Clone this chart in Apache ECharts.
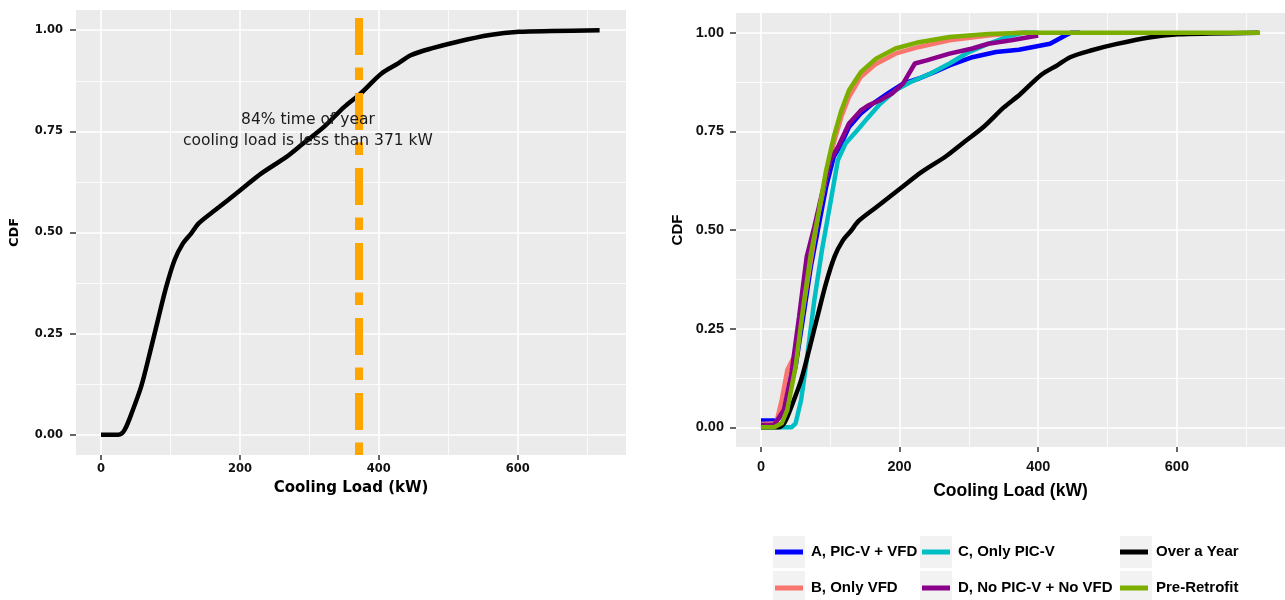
<!DOCTYPE html>
<html>
<head>
<meta charset="utf-8">
<script src="https://cdn.jsdelivr.net/npm/echarts@6/dist/echarts.min.js"></script>
<style>
  html, body { margin: 0; padding: 0; background: #fff; }
  #chart { width: 1285px; height: 600px; }
</style>
</head>
<body>
<div id="chart"></div>
<script>
// ticks / gridlines (ggplot style: majors labelled, minors only as lines)
const xTicks = [0, 200, 400, 600];
const xMinor = [100, 300, 500, 700];
const yTicks = [0, 0.25, 0.5, 0.75, 1];
const yMinor = [0.125, 0.375, 0.625, 0.875];

// cooling load over a year [kW, CDF]
const overYear = [
  [0, 0], [25, 0], [34, 0.012], [46, 0.062], [58, 0.12], [70, 0.2], [82, 0.284],
  [94, 0.366], [106, 0.432], [118, 0.473], [130, 0.498], [141, 0.523], [165, 0.556],
  [201, 0.605], [231, 0.646], [267, 0.687], [291, 0.72], [321, 0.761], [350, 0.81],
  [374, 0.844], [404, 0.893], [428, 0.918], [446, 0.938], [476, 0.955], [512, 0.971],
  [560, 0.988], [602, 0.996], [649, 0.998], [718, 1.0]
];
const markLoad = 371;
const noteText = '84% time of year\ncooling load is less than 371 kW';

// retrofit scenarios
const seriesA = [
  [0, 0.017], [22, 0.017], [33, 0.035], [50, 0.154], [61, 0.28], [72, 0.407], [83, 0.508],
  [94, 0.609], [105, 0.685], [116, 0.719], [127, 0.761], [144, 0.795], [161, 0.82],
  [183, 0.846], [205, 0.871], [228, 0.884], [250, 0.9], [272, 0.917], [305, 0.938],
  [339, 0.951], [372, 0.957], [417, 0.972], [439, 0.993], [447, 1.0], [460, 1.0]
];
const seriesB = [
  [0, 0.008], [22, 0.01], [30, 0.07], [38, 0.145], [50, 0.187], [58, 0.27], [72, 0.424],
  [83, 0.542], [94, 0.635], [105, 0.72], [116, 0.787], [127, 0.837], [144, 0.888],
  [166, 0.921], [194, 0.947], [228, 0.964], [272, 0.981], [328, 0.993], [372, 1.0], [385, 1.0]
];
const seriesC = [
  [0, 0], [44, 0], [50, 0.01], [58, 0.07], [66, 0.17], [77, 0.322], [88, 0.449],
  [100, 0.567], [111, 0.677], [122, 0.719], [139, 0.753], [155, 0.786], [172, 0.82],
  [194, 0.854], [216, 0.875], [244, 0.896], [272, 0.922], [300, 0.951], [328, 0.972],
  [361, 0.993], [378, 1.0], [400, 1.0]
];
const seriesD = [
  [0, 0.006], [19, 0.006], [33, 0.044], [44, 0.137], [55, 0.28], [66, 0.432], [77, 0.508],
  [88, 0.592], [100, 0.677], [111, 0.71], [127, 0.77], [144, 0.803], [155, 0.816],
  [172, 0.829], [189, 0.846], [205, 0.871], [222, 0.922], [239, 0.93], [272, 0.947],
  [305, 0.96], [328, 0.972], [361, 0.981], [400, 0.993]
];
const preRetrofit = [
  [0, 0], [19, 0], [30, 0.01], [38, 0.044], [50, 0.154], [61, 0.305], [72, 0.44],
  [83, 0.542], [94, 0.651], [105, 0.736], [116, 0.803], [127, 0.854], [144, 0.9],
  [166, 0.934], [194, 0.96], [228, 0.976], [272, 0.989], [328, 0.997], [383, 1.0], [720, 1.0]
];

const names = ['A, PIC-V + VFD', 'B, Only VFD', 'C, Only PIC-V', 'D, No PIC-V + No VFD', 'Over a Year', 'Pre-Retrofit'];
const colors = ['#0000FF', '#F8766D', '#00BFC4', '#8B008B', '#000000', '#7CAE00'];
const rightData = [seriesA, seriesB, seriesC, seriesD, overYear, preRetrofit];

const chart = echarts.init(document.getElementById('chart'));

const LEFT_FONT = 'DejaVu Sans';
const RIGHT_FONT = 'Liberation Sans';

function xAxes(grid, font, size, margin, nameSize, nameGap) {
  return [
    {
      type: 'value', gridIndex: grid, min: -36, max: 756,
      name: 'Cooling Load (kW)', nameLocation: 'middle', nameGap: nameGap, nameMoveOverlap: false,
      nameTextStyle: { fontFamily: font, fontWeight: 'bold', fontSize: nameSize, color: '#000' },
      axisLine: { show: false, onZero: false },
      axisTick: { show: true, customValues: xTicks, length: 5, lineStyle: { color: '#333', width: 1.5 } },
      axisLabel: { customValues: xTicks, margin: margin, fontFamily: font, fontWeight: 'bold', fontSize: size, color: '#111' },
      splitLine: { show: true, lineStyle: { color: '#fff', width: 1.6 } }
    },
    {
      type: 'value', gridIndex: grid, min: -36, max: 756,
      axisLine: { show: false, onZero: false },
      axisTick: { show: false, customValues: xMinor },
      axisLabel: { show: false, customValues: xMinor },
      splitLine: { show: true, lineStyle: { color: '#fff', width: 0.8 } }
    }
  ];
}

function yAxes(grid, font, size, margin, nameSize, nameGap) {
  return [
    {
      type: 'value', gridIndex: grid, min: -0.05, max: 1.05,
      name: 'CDF', nameLocation: 'middle', nameGap: nameGap, nameMoveOverlap: false,
      nameTextStyle: { fontFamily: font, fontWeight: 'bold', fontSize: nameSize, color: '#000' },
      axisLine: { show: false, onZero: false },
      axisTick: { show: true, customValues: yTicks, length: 6, lineStyle: { color: '#333', width: 1.5 } },
      axisLabel: {
        customValues: yTicks, margin: margin, fontFamily: font, fontWeight: 'bold', fontSize: size, color: '#111',
        formatter: v => v.toFixed(2)
      },
      splitLine: { show: true, lineStyle: { color: '#fff', width: 1.6 } }
    },
    {
      type: 'value', gridIndex: grid, min: -0.05, max: 1.05,
      axisLine: { show: false, onZero: false },
      axisTick: { show: false, customValues: yMinor },
      axisLabel: { show: false, customValues: yMinor },
      splitLine: { show: true, lineStyle: { color: '#fff', width: 0.8 } }
    }
  ];
}

const series = [
  {
    name: 'Cooling load', type: 'line', xAxisIndex: 0, yAxisIndex: 0,
    data: overYear, showSymbol: false, smooth: 0.3, z: 3,
    lineStyle: { color: '#000', width: 4.5 },
    markLine: {
      silent: true, symbol: 'none', animation: false,
      label: { show: false },
      lineStyle: { color: '#FFA500', width: 8, type: [37, 13, 12.5, 12.5], dashOffset: 50 },
      data: [{ xAxis: markLoad }]
    },
    markPoint: {
      silent: true, symbol: 'circle', symbolSize: 0,
      label: {
        show: true, formatter: noteText, color: '#1a1a1a',
        fontFamily: LEFT_FONT, fontSize: 15.5, lineHeight: 21, align: 'center', verticalAlign: 'middle'
      },
      data: [{ coord: [298, 0.753] }]
    }
  }
];

names.forEach((n, i) => {
  const isYear = n === 'Over a Year';
  series.push({
    name: n, type: 'line', xAxisIndex: 2, yAxisIndex: 2,
    data: rightData[i], showSymbol: false,
    smooth: isYear ? 0.3 : false,
    lineStyle: { color: colors[i], width: 4.5 },
    itemStyle: { color: colors[i] },
    z: 3 + i
  });
});

function legendCol(left, items) {
  return {
    orient: 'vertical', left: left, top: 544, padding: 0,
    itemWidth: 28, itemHeight: 5, itemGap: 20, icon: 'rect',
    selectedMode: false,
    data: items,
    textStyle: { fontFamily: RIGHT_FONT, fontWeight: 'bold', fontSize: 15, color: '#000', lineHeight: 16, padding: [0, 0, 0, 3] }
  };
}

const keyBoxes = [];
[773, 920, 1120].forEach(x => {
  [536, 571].forEach(y => {
    keyBoxes.push({ type: 'rect', left: x, top: y, shape: { width: 32, height: 32 }, style: { fill: '#F2F2F2' }, z: -1 });
  });
});

chart.setOption({
  animation: false,
  backgroundColor: '#fff',
  grid: [
    { left: 76, top: 10, width: 550, height: 445, show: true, backgroundColor: '#EBEBEB', borderWidth: 0 },
    { left: 736, top: 13, width: 550, height: 434, show: true, backgroundColor: '#EBEBEB', borderWidth: 0 }
  ],
  xAxis: [].concat(xAxes(0, LEFT_FONT, 11.5, 8, 15, 26), xAxes(1, RIGHT_FONT, 14.5, 12, 17.5, 35)),
  yAxis: [].concat(yAxes(0, LEFT_FONT, 11.5, 13, 13, 55), yAxes(1, RIGHT_FONT, 14.5, 12, 15, 51)),
  legend: [
    legendCol(775, [names[0], names[1]]),
    legendCol(922, [names[2], names[3]]),
    legendCol(1120, [names[4], names[5]])
  ],
  graphic: keyBoxes,
  series: series
});
</script>
</body>
</html>
